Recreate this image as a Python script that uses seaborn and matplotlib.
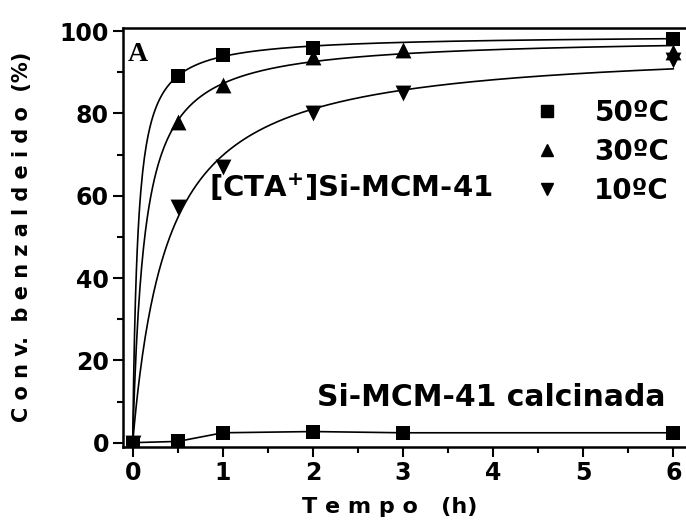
import numpy as np
import pandas as pd
import matplotlib
matplotlib.use("Agg")
import matplotlib.pyplot as plt
import seaborn as sns
from matplotlib.lines import Line2D
from matplotlib.ticker import MultipleLocator

# Dados
tempo_50 = [0, 0.5, 1, 2, 6]
conv_50 = [0, 89, 94.3, 96, 98.2]
tempo_30 = [0, 0.5, 1, 2, 3, 6]
conv_30 = [0, 78, 87, 93.7, 95.4, 95]
tempo_10 = [0, 0.5, 1, 2, 3, 6]
conv_10 = [0, 57.3, 67, 80, 85, 93]
tempo_calc = [0, 0.5, 1, 2, 3, 6]
conv_calc = [0, 0.3, 2.4, 2.7, 2.4, 2.4]

labels = ["50ºC", "30ºC", "10ºC"]
marcadores = ["s", "^", "v"]
tamanhos = [90, 130, 130]


def ajuste_saturacao(x, y, xs):
    # y = a*x/(b+x), busca em b e mínimos quadrados em a
    x = np.asarray(x, float)
    y = np.asarray(y, float)
    best = None
    for b in np.linspace(0.005, 2, 2000):
        f = x / (b + x)
        a = (f @ y) / (f @ f)
        err = np.sum((a * f - y) ** 2)
        if best is None or err < best[0]:
            best = (err, a, b)
    _, a, b = best
    return a * xs / (b + xs)


sns.set_style("ticks")
plt.rcParams["font.family"] = ["DejaVu Sans"]
plt.rcParams["font.weight"] = "bold"
for k in ["text.color", "axes.labelcolor", "xtick.color", "ytick.color",
          "axes.edgecolor"]:
    plt.rcParams[k] = "black"

fig = plt.figure(figsize=(6.86, 5.25), dpi=100)
ax = fig.add_axes([0.179, 0.149, 0.821, 0.798])

xs = np.linspace(0, 6, 600)
series = [(tempo_50, conv_50), (tempo_30, conv_30), (tempo_10, conv_10)]
for (t, c), m, s in zip(series, marcadores, tamanhos):
    curva = pd.DataFrame({"t": xs, "c": ajuste_saturacao(t, c, xs)})
    sns.lineplot(data=curva, x="t", y="c", ax=ax, color="black", linewidth=1.2)
    sns.scatterplot(x=t, y=c, ax=ax, marker=m, color="black", s=s,
                    linewidth=0, zorder=5)

sns.lineplot(x=tempo_calc, y=conv_calc, ax=ax, color="black", linewidth=1.2)
sns.scatterplot(x=tempo_calc, y=conv_calc, ax=ax, marker="s", color="black",
                s=90, linewidth=0, zorder=5)

ax.set_xlim(-0.11, 6.14)
ax.set_ylim(-1, 100.8)
ax.xaxis.set_major_locator(MultipleLocator(1))
ax.xaxis.set_minor_locator(MultipleLocator(0.5))
ax.yaxis.set_major_locator(MultipleLocator(20))
ax.yaxis.set_minor_locator(MultipleLocator(10))
ax.tick_params(which="major", direction="out", length=7, width=1.5,
               labelsize=17, pad=3)
ax.tick_params(which="minor", direction="out", length=4, width=1.5)
for lab in ax.get_xticklabels() + ax.get_yticklabels():
    lab.set_fontweight("bold")
for sp in ["left", "bottom", "top"]:
    ax.spines[sp].set_linewidth(1.8)
ax.spines["right"].set_visible(False)

ax.set_xlabel("T e m p o   (h)", fontsize=16, fontweight="bold")
ax.xaxis.set_label_coords(0.474, -0.12)
ax.set_ylabel("C o n v.  b e n z a l d e i d o  (%)", fontsize=15,
              fontweight="bold", labelpad=20)

ax.text(0.008, 0.965, "A", transform=ax.transAxes, fontsize=20,
        fontweight="bold", family="Liberation Serif", va="top", ha="left")
ax.text(0.85, 62, "[CTA$^{\\mathbf{+}}$]Si-MCM-41", fontsize=21,
        fontweight="bold", va="center", ha="left")
ax.text(2.05, 11, "Si-MCM-41 calcinada", fontsize=21.5, fontweight="bold",
        va="center", ha="left")

handles = [Line2D([], [], marker=m, color="black", linestyle="none",
                  markersize=9) for m in marcadores]
leg = ax.legend(handles, labels, loc="upper right",
                bbox_to_anchor=(1.0, 0.87),
                frameon=False, handletextpad=1.2, labelspacing=0.4,
                handlelength=1.0, borderaxespad=0.2,
                prop={"size": 20, "weight": "bold"})

fig.savefig("out.png", dpi=100)
